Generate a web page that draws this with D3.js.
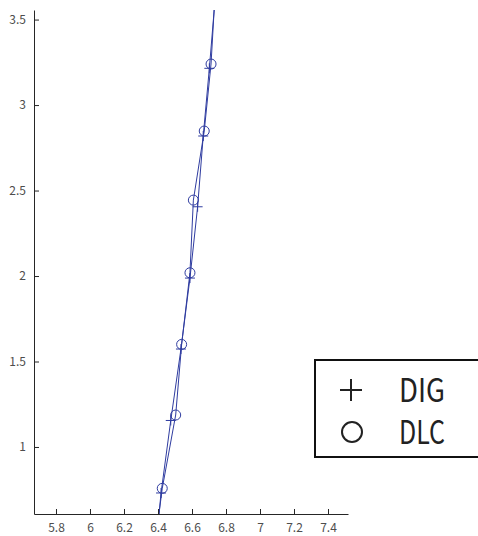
<!DOCTYPE html>
<html>
<head>
<meta charset="utf-8">
<script src="https://cdn.jsdelivr.net/npm/d3@7"></script>
<style>
  body { margin: 0; background: #fff; }
  svg { display: block; }
</style>
</head>
<body>
<script>
// series values (points beyond the axes are clipped, as in the source plot)
const digX = [6.377, 6.418, 6.475, 6.535, 6.588, 6.633, 6.666, 6.702, 6.735];
const digY = [0.31, 0.731, 1.155, 1.573, 1.988, 2.405, 2.819, 3.215, 3.61];
const dlcX = [6.371, 6.425, 6.504, 6.539, 6.588, 6.608, 6.672, 6.712, 6.735];
const dlcY = [0.34, 0.758, 1.187, 1.600, 2.019, 2.444, 2.848, 3.240, 3.64];

const xTicks = [5.8, 6, 6.2, 6.4, 6.6, 6.8, 7, 7.2, 7.4];
const yTicks = [1, 1.5, 2, 2.5, 3, 3.5];
const legendLabels = ['DIG', 'DLC'];

const W = 478, H = 536;
const margin = { top: 10, right: 130, bottom: 22, left: 34 };
const width = W - margin.left - margin.right;
const height = H - margin.top - margin.bottom;

const lineColor = '#2f3ca0';
const axisColor = '#262626';

const x = d3.scaleLinear().domain([5.6706, 7.5176]).range([0, width]);
const y = d3.scaleLinear().domain([0.608, 3.556]).range([height, 0]);

const svg = d3.select('body').append('svg')
  .attr('width', W)
  .attr('height', H);

svg.append('defs').append('clipPath')
  .attr('id', 'plot-clip')
  .append('rect')
  .attr('width', width)
  .attr('height', height);

const g = svg.append('g')
  .attr('transform', 'translate(' + margin.left + ',' + margin.top + ')');

const plot = g.append('g').attr('clip-path', 'url(#plot-clip)');

const digData = digX.map((v, i) => ({ x: v, y: digY[i] }));
const dlcData = dlcX.map((v, i) => ({ x: v, y: dlcY[i] }));

const line = d3.line()
  .x(d => x(d.x))
  .y(d => y(d.y));

[digData, dlcData].forEach(data => {
  plot.append('path')
    .datum(data)
    .attr('fill', 'none')
    .attr('stroke', lineColor)
    .attr('stroke-width', 1)
    .attr('d', line);
});

// plus markers
plot.selectAll('.dig')
  .data(digData)
  .enter().append('path')
  .attr('class', 'dig')
  .attr('fill', 'none')
  .attr('stroke', lineColor)
  .attr('stroke-width', 1)
  .attr('d', d => {
    const cx = x(d.x), cy = y(d.y);
    return 'M' + (cx - 5) + ',' + cy + 'h10M' + cx + ',' + (cy - 5) + 'v10';
  });

// circle markers
plot.selectAll('.dlc')
  .data(dlcData)
  .enter().append('circle')
  .attr('class', 'dlc')
  .attr('fill', 'none')
  .attr('stroke', lineColor)
  .attr('stroke-width', 1)
  .attr('cx', d => x(d.x))
  .attr('cy', d => y(d.y))
  .attr('r', 5);

// axes
const xAxis = g.append('g')
  .attr('transform', 'translate(0,' + height + ')')
  .call(d3.axisBottom(x).tickValues(xTicks).tickSizeInner(-5).tickSizeOuter(0).tickPadding(9)
    .tickFormat(d3.format('')));

const yAxis = g.append('g')
  .call(d3.axisLeft(y).tickValues(yTicks).tickSizeInner(-5).tickSizeOuter(0).tickPadding(8)
    .tickFormat(d3.format('')));

[xAxis, yAxis].forEach(a => {
  a.select('.domain').attr('stroke', axisColor).attr('stroke-width', 1);
  a.selectAll('.tick line').attr('stroke', axisColor);
  a.selectAll('.tick text')
    .attr('fill', '#4d4d4d')
    .style('font-family', '"Liberation Sans Narrow", "Noto Sans CJK JP", sans-serif')
    .style('font-size', '12px');
});

// legend
const legend = svg.append('g').attr('transform', 'translate(315,360)');

legend.append('rect')
  .attr('width', 180)
  .attr('height', 97)
  .attr('fill', '#fff')
  .attr('stroke', '#111')
  .attr('stroke-width', 2);

legend.append('path')
  .attr('d', 'M25,30h22M36,19v22')
  .attr('stroke', '#222')
  .attr('stroke-width', 2)
  .attr('fill', 'none');

legend.append('circle')
  .attr('cx', 37)
  .attr('cy', 72)
  .attr('r', 10)
  .attr('fill', 'none')
  .attr('stroke', '#222')
  .attr('stroke-width', 2);

legend.selectAll('.leg-text')
  .data(legendLabels)
  .enter().append('text')
  .attr('class', 'leg-text')
  .attr('x', 84)
  .attr('y', (d, i) => 42 + i * 42)
  .attr('textLength', 46)
  .attr('lengthAdjust', 'spacingAndGlyphs')
  .attr('fill', '#222')
  .style('font-family', '"Noto Sans CJK JP", sans-serif')
  .style('font-size', '32px')
  .text(d => d);
</script>
</body>
</html>
